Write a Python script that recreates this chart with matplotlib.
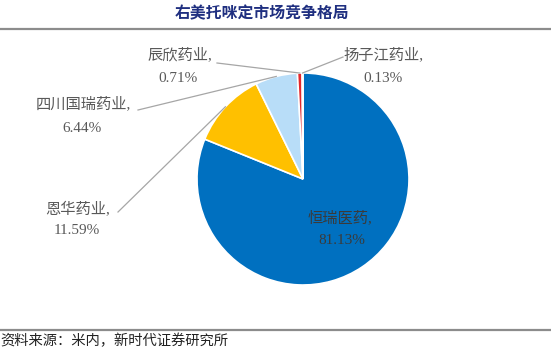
import numpy as np
import matplotlib.pyplot as plt

plt.rcParams['font.family'] = ['Liberation Serif', 'Noto Sans CJK SC', 'DejaVu Sans']

# market share data (clockwise from 12 o'clock)
companies = ["恒瑞医药", "恩华药业", "四川国瑞药业", "辰欣药业", "扬子江药业"]
shares = [81.13, 11.59, 6.44, 0.71, 0.13]
colors = ["#0070C0", "#FFC000", "#B8DDF8", "#E3262B", "#C00000"]

title = "右美托咪定市场竞争格局"
source = "资料来源：米内，新时代证券研究所"

W, H = 551, 351
fig = plt.figure(figsize=(W / 100, H / 100), dpi=100)
ax = fig.add_axes([0, 0, 1, 1])

# pie placed in pixel space
cx, cy, r = 303, H - 179, 106
wedges, _ = ax.pie(shares, colors=colors, startangle=90, counterclock=False,
                   center=(cx, cy), radius=r, frame=True,
                   wedgeprops=dict(edgecolor="white", linewidth=1.2))
ax.set_xlim(0, W)
ax.set_ylim(0, H)
ax.set_aspect("equal")
ax.axis("off")

# label positions (name centre, pct centre, leader start) in pixel coords, y down
label_pos = {
    "恩华药业": ((78, 210), (77, 231), (118, 212)),
    "四川国瑞药业": ((83, 104), (82, 128), (138, 110)),
    "辰欣药业": ((180, 55), (178, 79), (217, 63)),
    "扬子江药业": ((384, 55), (383, 79), (343, 57)),
}

gray_txt = "#595959"
fs = 11
for w, name, val in zip(wedges, companies, shares):
    if name not in label_pos:
        continue
    (nx, ny), (px, py), (lx, ly) = label_pos[name]
    ax.text(nx, H - ny, name + ",", ha="center", va="center", fontsize=fs, color=gray_txt)
    ax.text(px, H - py, f"{val:.2f}%", ha="center", va="center", fontsize=fs, color=gray_txt)
    mid = np.deg2rad((w.theta1 + w.theta2) / 2)
    ex, ey = cx + r * np.cos(mid), cy + r * np.sin(mid)
    ax.plot([lx, ex], [H - ly, ey], color="#A6A6A6", lw=0.9)

# biggest slice labelled inside
ax.text(340, H - 218, companies[0] + ",", ha="center", va="center", fontsize=fs, color="#3A3A3A")
ax.text(342, H - 240, f"{shares[0]:.2f}%", ha="center", va="center", fontsize=fs, color="#3A3A3A")

# title and rules
ax.text(262, H - 13, title, ha="center", va="center", fontsize=11.4, fontweight="bold",
        color="#1F2F80", family=["Noto Sans CJK SC"])
ax.plot([0, W], [H - 29, H - 29], color="#8C8C8C", lw=1.6)
ax.plot([0, W], [H - 330, H - 330], color="#8C8C8C", lw=1.6)
ax.text(0, H - 341, source, ha="left", va="center", fontsize=10.3, color="#222222",
        family=["Noto Sans CJK SC"])

fig.savefig("out.png", dpi=100)
